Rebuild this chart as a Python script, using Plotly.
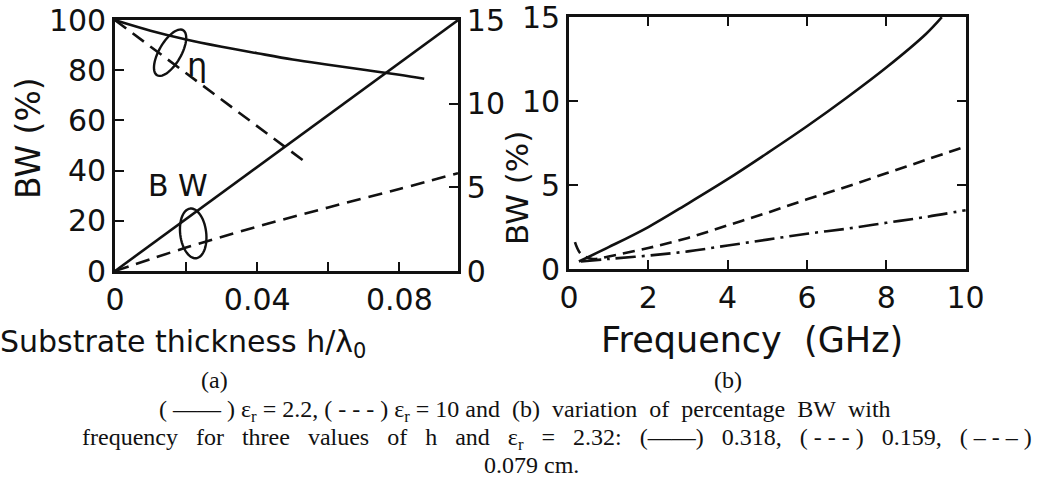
import numpy as np
import plotly.graph_objects as go

W, H = 1056, 502

# ---- (a) efficiency and bandwidth versus substrate thickness ----
h_eta_22 = [0, 0.01, 0.02, 0.03, 0.04, 0.05, 0.06, 0.07, 0.08, 0.087]
eta_22 = [100, 95.8, 92.3, 89.4, 86.8, 84.3, 82.2, 80.2, 78.2, 76.6]
h_eta_10 = [0, 0.0265, 0.053]
eta_10 = [100, 72, 44]
h_bw_22 = [0, 0.0965]
bw_22 = [0, 15]
h_bw_10 = [0, 0.02, 0.04, 0.06, 0.08, 0.0965]
bw_10 = [0, 1.4, 2.65, 3.8, 4.9, 5.85]

# ---- (b) bandwidth versus frequency for three substrate heights ----
f_318 = [0.25, 1, 2, 3, 4, 5, 6, 7, 8, 9, 9.4]
bw_318 = [0.45, 1.3, 2.5, 3.9, 5.35, 6.9, 8.5, 10.2, 12.0, 14.0, 15.0]
f_159 = [0.15, 0.3, 0.6, 1, 2, 3, 4, 5, 6, 7, 8, 9, 10]
bw_159 = [1.6, 0.9, 0.6, 0.75, 1.25, 1.85, 2.6, 3.35, 4.15, 4.9, 5.7, 6.5, 7.3]
f_079 = [0.3, 1, 2, 3, 4, 5, 6, 7, 8, 9, 10]
bw_079 = [0.45, 0.6, 0.8, 1.05, 1.4, 1.75, 2.1, 2.4, 2.75, 3.1, 3.5]

x_a_ticks = [0, 0.04, 0.08]
x_a_minor = [0.02, 0.06]
y_eta_ticks = [0, 20, 40, 60, 80, 100]
y_bw_ticks = [0, 5, 10, 15]
x_b_ticks = [0, 2, 4, 6, 8, 10]

INK = "#111111"
LW = 2.6
SANS = "DejaVu Sans"
TICK_FONT = dict(family=SANS, size=30, color=INK)
CAP_FONT = dict(family="Liberation Serif", size=24, color=INK)
NB = "\u00a0"


def px(x):
    return x / W


def py(y):
    return 1 - y / H


fig = go.Figure()

line_solid = dict(color=INK, width=LW)
line_dash = dict(color=INK, width=LW, dash="14px,8px")

fig.add_trace(go.Scatter(x=h_eta_22, y=eta_22, mode="lines", line=dict(line_solid, shape="spline"),
                         xaxis="x", yaxis="y"))
fig.add_trace(go.Scatter(x=h_eta_10, y=eta_10, mode="lines", line=line_dash, xaxis="x", yaxis="y"))
fig.add_trace(go.Scatter(x=h_bw_22, y=bw_22, mode="lines", line=line_solid, xaxis="x", yaxis="y2"))
fig.add_trace(go.Scatter(x=h_bw_10, y=bw_10, mode="lines", line=dict(line_dash, shape="spline"),
                         xaxis="x", yaxis="y2"))

fig.add_trace(go.Scatter(x=f_318, y=bw_318, mode="lines", line=dict(line_solid, shape="spline"),
                         xaxis="x2", yaxis="y3"))
fig.add_trace(go.Scatter(x=f_159, y=bw_159, mode="lines",
                         line=dict(color=INK, width=LW, dash="12px,7px", shape="spline"),
                         xaxis="x2", yaxis="y3"))
fig.add_trace(go.Scatter(x=f_079, y=bw_079, mode="lines",
                         line=dict(color=INK, width=LW, dash="20px,6px,3px,6px", shape="spline"),
                         xaxis="x2", yaxis="y3"))

axis_common = dict(showgrid=False, zeroline=False, showline=True, linecolor=INK, linewidth=LW,
                   ticks="inside", ticklen=9, tickwidth=2, tickcolor=INK, tickfont=TICK_FONT,
                   ticklabeloverflow="allow", automargin=False, fixedrange=True)

fig.update_layout(
    width=W, height=H,
    margin=dict(l=0, r=0, t=0, b=0),
    paper_bgcolor="white", plot_bgcolor="white",
    showlegend=False,
    xaxis=dict(axis_common, domain=[px(115), px(458)], range=[0, 0.0965],
               tickvals=x_a_ticks, ticktext=["0", "0.04", "0.08"], mirror=True, anchor="y",
               minor=dict(tickvals=x_a_minor, ticks="inside", ticklen=9, tickwidth=2,
                          tickcolor=INK, showgrid=False)),
    yaxis=dict(axis_common, domain=[py(271), py(20)], range=[0, 100.05],
               tickvals=y_eta_ticks, anchor="x"),
    yaxis2=dict(axis_common, range=[0, 15.01], tickvals=y_bw_ticks, overlaying="y",
                side="right", anchor="x"),
    xaxis2=dict(axis_common, domain=[px(569), px(966)], range=[0, 10.01],
                tickvals=x_b_ticks, mirror="ticks", anchor="y3"),
    yaxis3=dict(axis_common, domain=[py(269), py(17)], range=[0, 15.01],
                tickvals=y_bw_ticks, mirror="ticks", anchor="x2"),
)


def ellipse_path(a, b, angle_deg, n=60):
    t = np.linspace(0, 2 * np.pi, n, endpoint=False)
    th = np.deg2rad(angle_deg)
    xs = a * np.cos(t) * np.cos(th) - b * np.sin(t) * np.sin(th)
    ys = a * np.cos(t) * np.sin(th) + b * np.sin(t) * np.cos(th)
    pts = [f"{x:.2f},{y:.2f}" for x, y in zip(xs, ys)]
    return "M" + " L".join(pts) + " Z"


# loops grouping the curve families
fig.add_shape(type="path", xref="x", yref="y", xsizemode="pixel", ysizemode="pixel",
              xanchor=0.0155, yanchor=87, path=ellipse_path(26, 11, 60),
              line=dict(color=INK, width=2.4))
fig.add_shape(type="path", xref="x", yref="y", xsizemode="pixel", ysizemode="pixel",
              xanchor=0.0220, yanchor=15, path=ellipse_path(25, 13, 97),
              line=dict(color=INK, width=2.4))


def note(x, y, text, font, ref="paper", angle=0):
    if ref == "paper":
        x, y, xr, yr = px(x), py(y), "paper", "paper"
    else:
        xr, yr = "x", "y"
    return dict(x=x, y=y, xref=xr, yref=yr, text=text, showarrow=False, textangle=angle,
                xanchor="center", yanchor="middle", font=font)


caption_1 = ("( —— ) ε<sub>r</sub> = 2.2, ( - - - ) ε<sub>r</sub> = 10 and" + NB + " (b)" + NB
             + " variation" + NB + " of" + NB + " percentage" + NB + " BW" + NB + " with")
words_2 = ["frequency", "for", "three", "values", "of", "h", "and", "ε<sub>r</sub>", "=", "2.32:",
           "(——)", "0.318,", "( - - - )", "0.159,", "( – - – )"]
caption_2 = (" " + NB * 2).join(words_2)

annotations = [
    note(0.0232, 82, "η", dict(family=SANS, size=32, color=INK), ref="data"),
    note(0.0177, 34, "B W", dict(family=SANS, size=30, color=INK), ref="data"),
    note(28, 138, "BW (%)", dict(family=SANS, size=33, color=INK), angle=-90),
    note(517, 188, "BW (%)", dict(family=SANS, size=31, color=INK), angle=-90),
    note(183, 343, "Substrate thickness h/λ<sub>0</sub>", dict(family=SANS, size=30, color=INK)),
    note(752, 340, "Frequency  (GHz)", dict(family=SANS, size=35, color=INK)),
    note(214, 380, "(a)", CAP_FONT),
    note(728, 380, "(b)", CAP_FONT),
    note(525, 411, caption_1, CAP_FONT),
    note(557, 439, caption_2, CAP_FONT),
    note(531, 465, "0.079 cm.", CAP_FONT),
]
fig.update_layout(annotations=annotations)

fig.write_html("out.html")
